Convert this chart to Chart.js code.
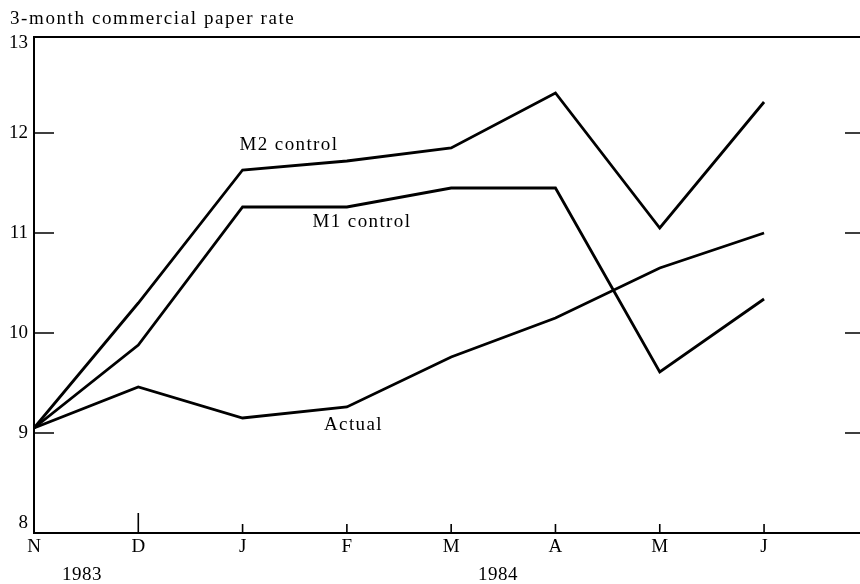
<!DOCTYPE html>
<html>
<head>
<meta charset="utf-8">
<script src="https://cdn.jsdelivr.net/npm/chart.js@4"></script>
<style>
  html, body { margin: 0; padding: 0; background: #fff; }
  #wrap { width: 860px; height: 584px; position: relative; }
</style>
</head>
<body>
<div id="wrap"><canvas id="chart"></canvas></div>
<script>
// meses (nov 1983 - jun 1984)
const months = ['N', 'D', 'J', 'F', 'M', 'A', 'M', 'J'];
const years = [{ text: '1983', x: 0.46 }, { text: '1984', x: 4.45 }];
const yTicks = [8, 9, 10, 11, 12, 13];

// series
const m2Control = [9.05, 10.30, 11.63, 11.72, 11.85, 12.40, 11.05, 12.31];
const m1Control = [9.05, 9.88, 11.26, 11.26, 11.45, 11.45, 9.61, 10.34];
const actual = [9.05, 9.46, 9.15, 9.26, 9.76, 10.15, 10.65, 11.00];

// etiquetas dentro del gráfico (coordenadas de datos, esquina izquierda)
const notes = [
    { text: 'M2 control', x: 1.97, y: 11.88 },
    { text: 'M1 control', x: 2.67, y: 11.11 },
    { text: 'Actual', x: 2.78, y: 9.08 }
];

const SERIF = '"Liberation Serif", "DejaVu Serif", serif';
const toPoints = arr => arr.map((v, i) => ({ x: i, y: v }));
const yMin = yTicks[0];
const yMax = yTicks[yTicks.length - 1];

const lineStyle = {
    borderColor: '#000',
    borderWidth: 2.8,
    pointRadius: 0,
    tension: 0,
    fill: false
};

// ejes, marcas interiores y textos
const framePlugin = {
    id: 'frame',
    afterDatasetsDraw(chart) {
        const { ctx, chartArea: a, scales: { x, y } } = chart;
        const top = a.top + 4;
        ctx.save();
        ctx.strokeStyle = '#000';
        ctx.lineWidth = 2;
        ctx.beginPath();
        ctx.moveTo(a.right, top);
        ctx.lineTo(a.left, top);
        ctx.lineTo(a.left, a.bottom);
        ctx.lineTo(a.right, a.bottom);
        ctx.stroke();

        // marcas del eje y
        ctx.lineWidth = 1.6;
        ctx.beginPath();
        yTicks.slice(1, -1).forEach(v => {
            const py = y.getPixelForValue(v);
            ctx.moveTo(a.left, py);
            ctx.lineTo(a.left + 20, py);
            ctx.moveTo(a.right - 15, py);
            ctx.lineTo(a.right, py);
        });
        // marcas del eje x
        months.forEach((m, i) => {
            if (i === 0) return;
            const px = x.getPixelForValue(i);
            ctx.moveTo(px, a.bottom);
            ctx.lineTo(px, a.bottom - (i === 1 ? 20 : 9));
        });
        ctx.stroke();

        ctx.fillStyle = '#000';
        ctx.textBaseline = 'middle';

        // 13 y 8 van un poco hacia dentro, como en el original
        ctx.font = '19px ' + SERIF;
        ctx.textAlign = 'right';
        ctx.fillText(String(yMax), a.left - 6, y.getPixelForValue(yMax) + 10);
        ctx.fillText(String(yMin), a.left - 6, y.getPixelForValue(yMin) - 10);

        ctx.letterSpacing = '1.4px';
        ctx.textAlign = 'left';
        notes.forEach(n => {
            ctx.fillText(n.text, x.getPixelForValue(n.x), y.getPixelForValue(n.y));
        });

        ctx.textAlign = 'center';
        ctx.letterSpacing = '0.5px';
        years.forEach(yr => {
            ctx.fillText(yr.text, x.getPixelForValue(yr.x), a.bottom + 42);
        });

        ctx.textAlign = 'left';
        ctx.letterSpacing = '1.6px';
        ctx.fillText('3-month commercial paper rate', 10, 19);
        ctx.restore();
    }
};

new Chart(document.getElementById('chart'), {
    type: 'line',
    data: {
        datasets: [
            { label: 'M2 control', data: toPoints(m2Control), ...lineStyle },
            { label: 'M1 control', data: toPoints(m1Control), ...lineStyle },
            { label: 'Actual', data: toPoints(actual), ...lineStyle }
        ]
    },
    options: {
        responsive: true,
        maintainAspectRatio: false,
        animation: false,
        layout: { padding: { left: 0, right: 0, top: 33, bottom: 0 } },
        plugins: {
            legend: { display: false },
            tooltip: { enabled: false }
        },
        scales: {
            x: {
                type: 'linear',
                min: 0,
                max: 7.92,
                afterBuildTicks: s => { s.ticks = months.map((m, i) => ({ value: i })); },
                afterFit: s => { s.height = 51; },
                grid: { display: false, drawTicks: false },
                border: { display: false },
                ticks: {
                    color: '#000',
                    font: { family: SERIF, size: 19 },
                    padding: 3,
                    maxRotation: 0,
                    autoSkip: false,
                    callback: v => months[v]
                }
            },
            y: {
                min: yMin,
                max: yMax,
                afterBuildTicks: s => { s.ticks = yTicks.map(v => ({ value: v })); },
                afterFit: s => { s.width = 34; },
                grid: { display: false, drawTicks: false },
                border: { display: false },
                ticks: {
                    color: '#000',
                    font: { family: SERIF, size: 19 },
                    padding: 6,
                    callback: v => (v === yMin || v === yMax) ? '' : String(v)
                }
            }
        }
    },
    plugins: [framePlugin]
});
</script>
</body>
</html>
